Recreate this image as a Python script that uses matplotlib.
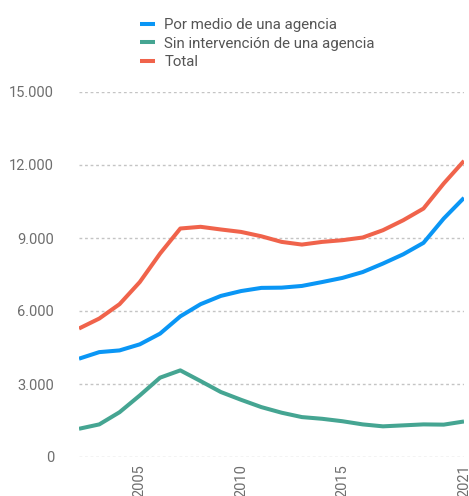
import matplotlib
matplotlib.use('Agg')
import matplotlib.pyplot as plt
from matplotlib.ticker import FuncFormatter

# datos
anios = list(range(2002, 2022))
agencia = [4040, 4310, 4380, 4630, 5070, 5780, 6280, 6620, 6820, 6950,
           6960, 7030, 7190, 7360, 7600, 7950, 8330, 8800, 9800, 10650]
sin_agencia = [1160, 1340, 1840, 2530, 3260, 3560, 3120, 2670, 2350, 2050,
               1820, 1640, 1570, 1470, 1340, 1260, 1300, 1340, 1330, 1460]
total = [5280, 5690, 6280, 7190, 8360, 9390, 9460, 9350, 9250, 9070,
         8840, 8730, 8840, 8910, 9020, 9320, 9730, 10210, 11240, 12170]
etiquetas = ['Por medio de una agencia', 'Sin intervención de una agencia', 'Total']
colores = ['#0a96f5', '#45a592', '#f0634b']
xticks = [2005, 2010, 2015, 2021]
yticks = [0, 3000, 6000, 9000, 12000, 15000]

plt.rcParams['font.family'] = ['Roboto', 'DejaVu Sans']

fig = plt.figure(figsize=(4.69, 4.96), dpi=100)
ax = fig.add_axes([79 / 469, 39 / 496, 385 / 469, 365 / 496])

for serie, lab, col in zip([agencia, sin_agencia, total], etiquetas, colores):
    ax.plot(anios, serie, color=col, lw=2.9, label=lab, solid_capstyle='butt')

ax.set_xlim(2002, 2021)
ax.set_ylim(0, 15000)
ax.set_yticks(yticks)
ax.yaxis.set_major_formatter(FuncFormatter(lambda v, p: f'{int(v):,}'.replace(',', '.')))
ax.set_xticks(xticks)
ax.set_xticklabels([str(x) for x in xticks], rotation=90)
ax.grid(axis='y', color='#c4c4c4', ls=(0, (2, 2)), lw=1)
ax.set_axisbelow(True)
for s in ax.spines.values():
    s.set_visible(False)
ax.tick_params(axis='both', length=0, labelsize=10.5, colors='#6e6e6e')
ax.tick_params(axis='y', pad=18)
ax.tick_params(axis='x', pad=5)

fig.legend(loc='upper left', bbox_to_anchor=(126 / 469, 1 - 5 / 496), frameon=False,
           fontsize=10.8, handlelength=1.0, handletextpad=0.65, labelspacing=0.28,
           labelcolor='#555555')

fig.savefig('out.png', dpi=100)
